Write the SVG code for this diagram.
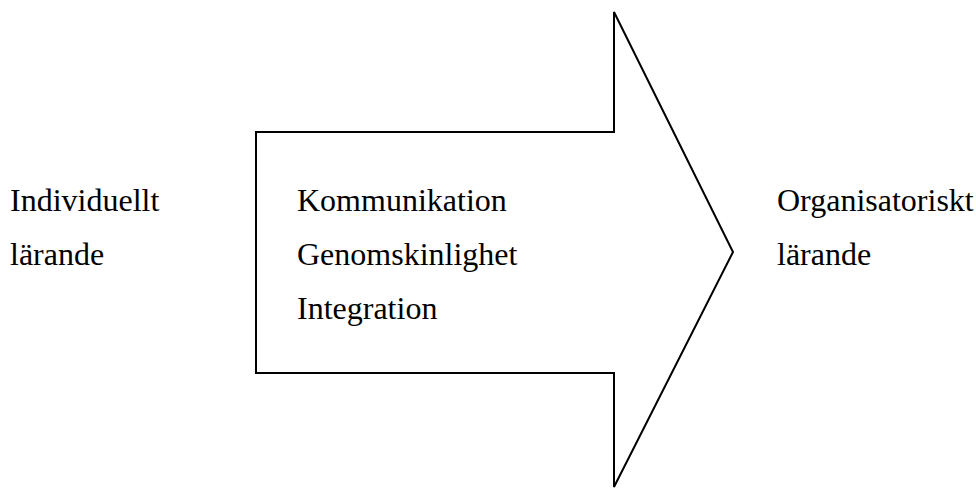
<svg xmlns="http://www.w3.org/2000/svg" width="976" height="488" viewBox="0 0 976 488">
<style>
text { font-family: "Liberation Serif", "Times New Roman", serif; font-size: 32px; fill: #000; }
.shape { fill: #fff; stroke: #000; stroke-width: 2; stroke-linejoin: miter; }
</style>
<rect width="976" height="488" fill="#fff"/>
<g id="connectors">
<path id="arrow" class="shape" d="M256,132 H614 V12 L733,252 L614,487 V373 H256 Z"/>
</g>
<g id="node-individuellt">
<text x="10" y="211">Individuellt</text>
<text x="10" y="265">lärande</text>
</g>
<g id="node-arrow-label">
<text x="297" y="211">Kommunikation</text>
<text x="297" y="265">Genomskinlighet</text>
<text x="297" y="319">Integration</text>
</g>
<g id="node-organisatoriskt">
<text x="777" y="211">Organisatoriskt</text>
<text x="777" y="265">lärande</text>
</g>
</svg>
